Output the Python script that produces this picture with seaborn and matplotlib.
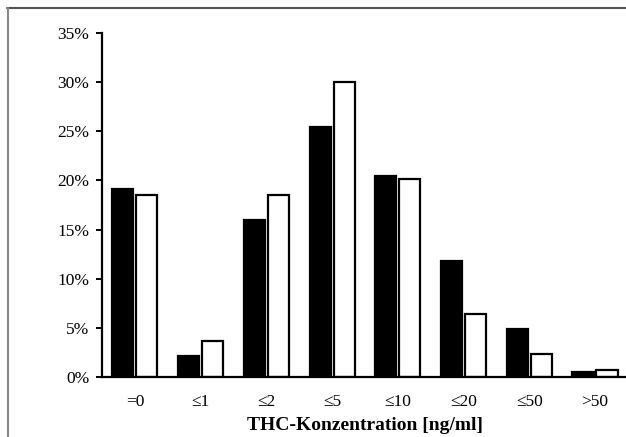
import matplotlib
matplotlib.use("Agg")
import matplotlib.pyplot as plt
import seaborn as sns
import pandas as pd
from matplotlib.lines import Line2D
from matplotlib.ticker import FuncFormatter

categories = ["=0", "≤1", "≤2", "≤5", "≤10", "≤20", "≤50", ">50"]
series_a = [19.1, 2.1, 16.0, 25.4, 20.4, 11.8, 4.9, 0.5]
series_b = [18.5, 3.7, 18.5, 30.0, 20.1, 6.4, 2.3, 0.7]
series_names = ["Gruppe 1", "Gruppe 2"]
y_ticks = [0, 5, 10, 15, 20, 25, 30, 35]

df = pd.DataFrame({
    "cat": categories * 2,
    "val": series_a + series_b,
    "series": [series_names[0]] * len(categories) + [series_names[1]] * len(categories),
})

sns.set_theme(style="white")
plt.rcParams["font.family"] = ["Liberation Serif", "DejaVu Serif"]

fig = plt.figure(figsize=(6.26, 4.37), dpi=100)
ax = fig.add_axes([0.163, 0.1373, 1.003 - 0.163, 0.9245 - 0.1373])

sns.barplot(data=df, x="cat", y="val", hue="series", order=categories,
            hue_order=series_names, palette=["black", "white"],
            width=0.73, gap=0.12, edgecolor="black", linewidth=1.6,
            legend=False, ax=ax)

ax.set_ylim(0, 35)
ax.set_yticks(y_ticks)
ax.yaxis.set_major_formatter(FuncFormatter(lambda v, p: f"{int(v)}%"))
ax.set_xlim(-0.5, len(categories) - 0.5)
for s in ["top", "right"]:
    ax.spines[s].set_visible(False)
for s in ["left", "bottom"]:
    ax.spines[s].set_color("black")
    ax.spines[s].set_linewidth(1.6)
ax.tick_params(axis="y", which="major", left=True, length=4, width=1.4,
               color="black", pad=5, labelsize=12.5, labelcolor="black")
ax.tick_params(axis="x", bottom=False, pad=6, labelsize=12.5, labelcolor="black")
ax.set_ylabel("")
ax.set_xlabel("THC-Konzentration [ng/ml]", fontsize=14, fontweight="bold",
              color="black", labelpad=5)

# outer frame lines (top and left)
fig.add_artist(Line2D([7 / 626, 1.0], [1 - 7.5 / 437, 1 - 7.5 / 437],
                      transform=fig.transFigure, color="#555555", linewidth=1.5))
fig.add_artist(Line2D([7.5 / 626, 7.5 / 626], [0, 1 - 7.5 / 437],
                      transform=fig.transFigure, color="#888888", linewidth=1.5))

fig.savefig("out.png", dpi=100)
